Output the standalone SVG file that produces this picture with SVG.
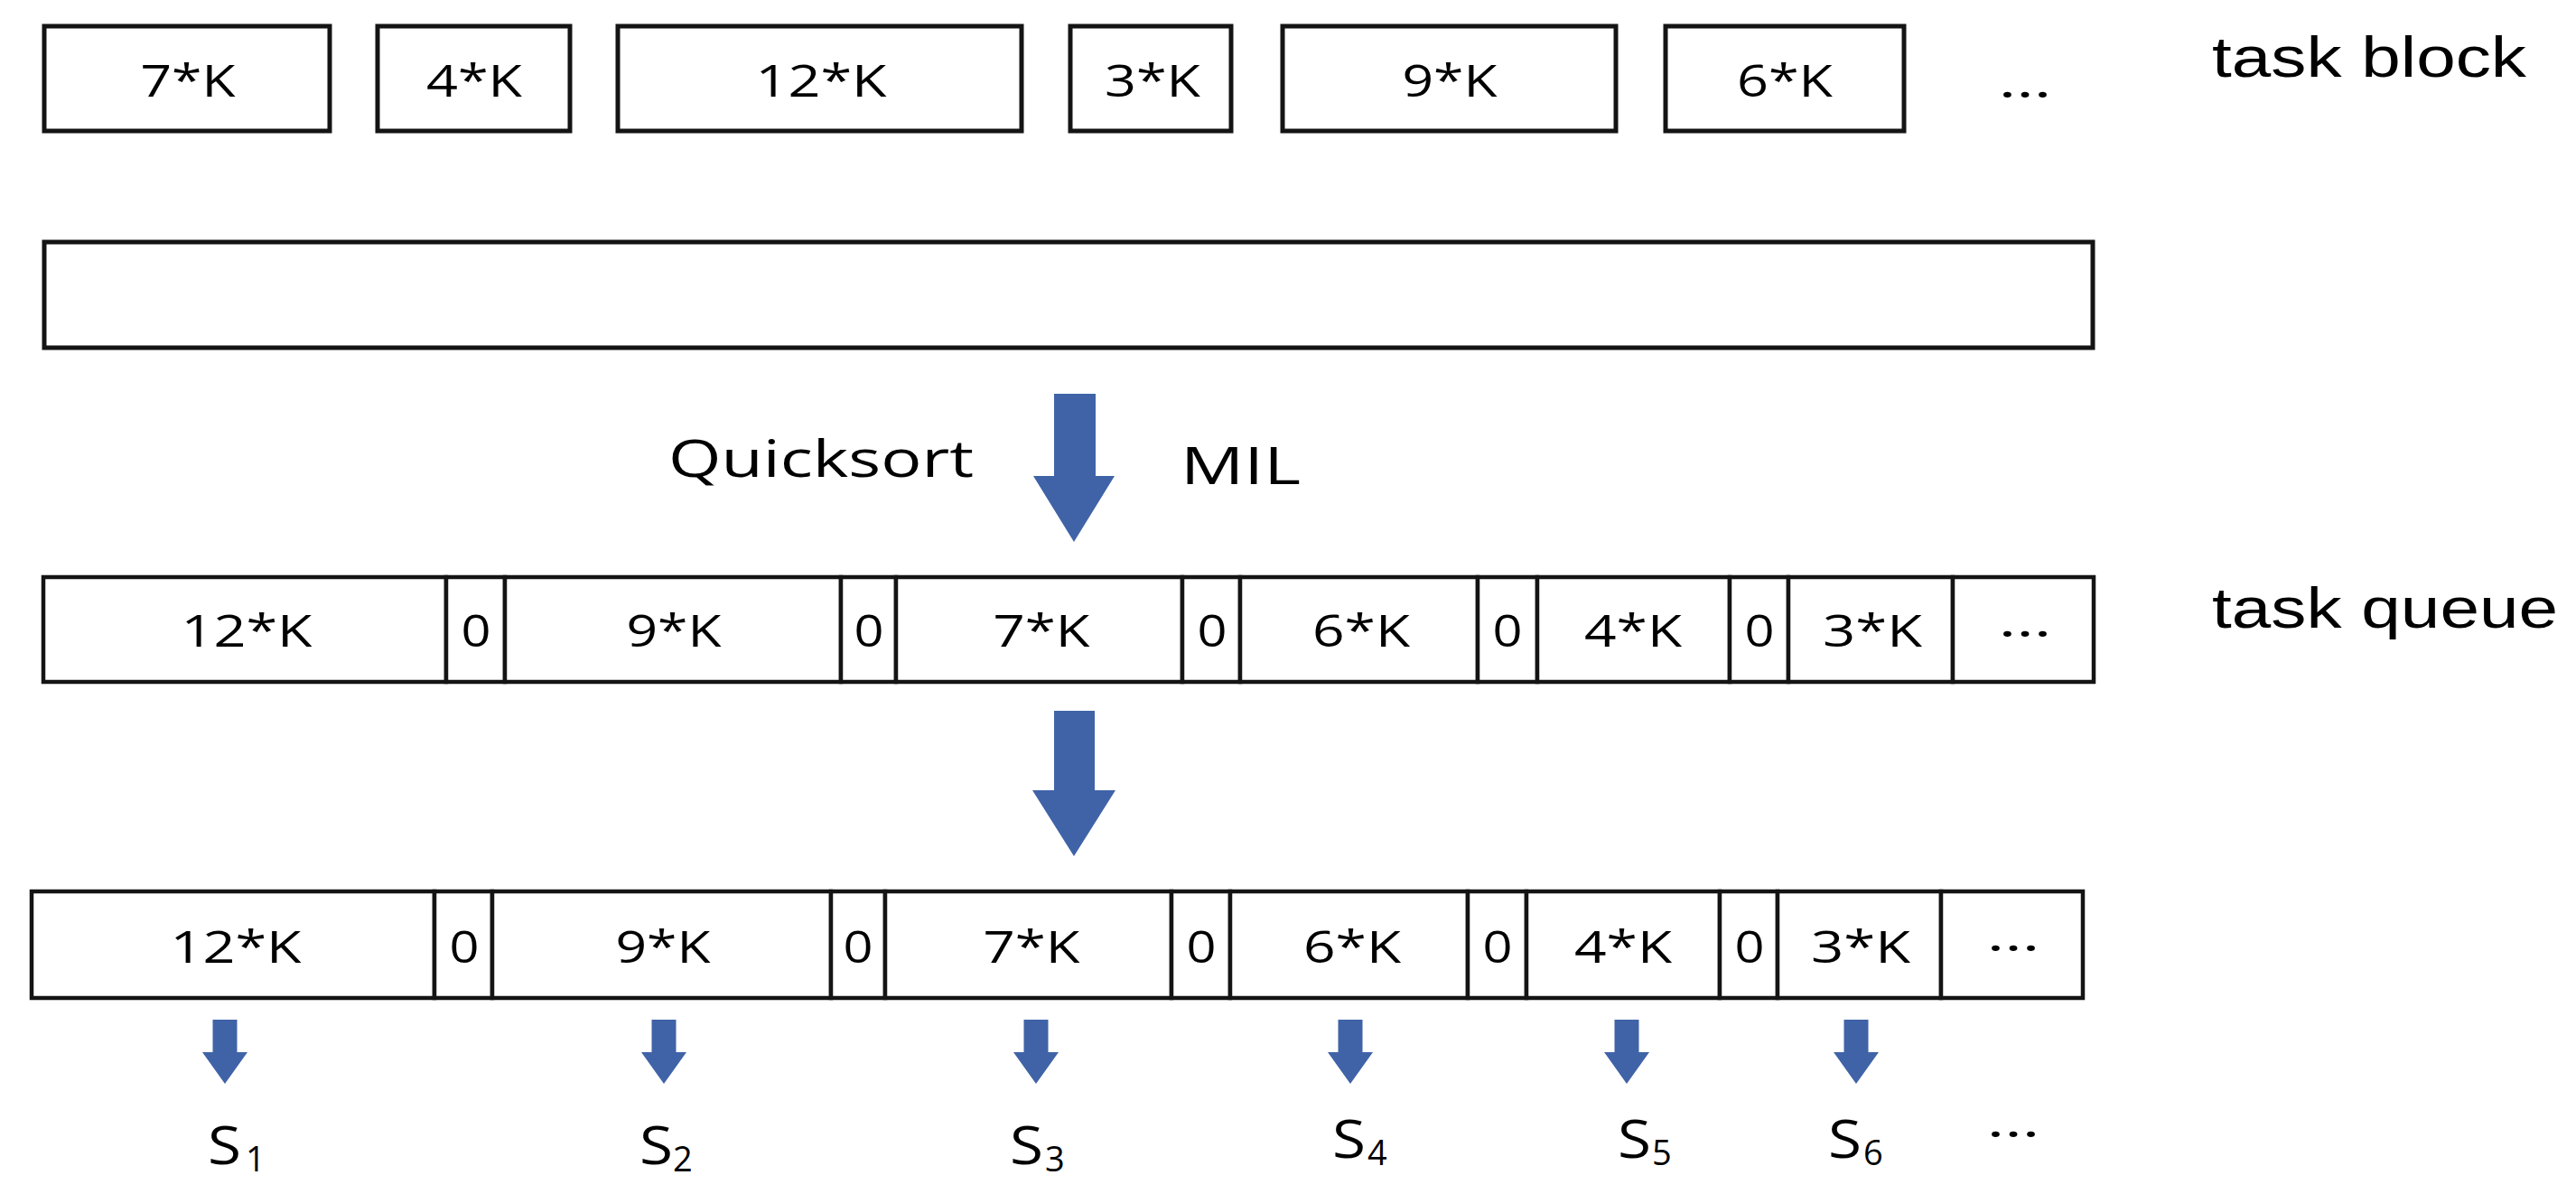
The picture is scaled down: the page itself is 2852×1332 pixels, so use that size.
<svg xmlns="http://www.w3.org/2000/svg" width="2852" height="1332" viewBox="0 0 2852 1332">
<style>
.box{fill:#fff;stroke:#141414;stroke-width:5}
.cell{fill:#fff;stroke:#141414;stroke-width:4.5}
.lbl{font-family:"Open Sans","Noto Sans",sans-serif;font-size:49px;fill:#000;text-anchor:middle}
.cap{font-family:"Open Sans","Noto Sans",sans-serif;font-size:57px;fill:#000}
.side{font-family:"Liberation Sans",Arial,sans-serif;font-size:63px;fill:#000}
.s{font-family:"Open Sans","Noto Sans",sans-serif;font-size:59px;fill:#000}
.sub{font-size:38px}
.arrow{fill:#4063A8}
</style>
<defs>
<path id="smallArrow" d="M-13.5,1129 H13.5 V1165 H25 L0,1200 L-25,1165 H-13.5 Z"/>
</defs>
<rect width="2852" height="1332" fill="#fff"/>

<g id="task-blocks">
<g id="tb1"><rect class="box" x="49" y="29" width="316" height="116"/><text class="lbl" x="208" y="107" textLength="105" lengthAdjust="spacingAndGlyphs">7*K</text></g>
<g id="tb2"><rect class="box" x="418" y="29" width="213" height="116"/><text class="lbl" x="525" y="107" textLength="106" lengthAdjust="spacingAndGlyphs">4*K</text></g>
<g id="tb3"><rect class="box" x="684" y="29" width="447" height="116"/><text class="lbl" x="909" y="107" textLength="145" lengthAdjust="spacingAndGlyphs">12*K</text></g>
<g id="tb4"><rect class="box" x="1185" y="29" width="178" height="116"/><text class="lbl" x="1276" y="107" textLength="106" lengthAdjust="spacingAndGlyphs">3*K</text></g>
<g id="tb5"><rect class="box" x="1420" y="29" width="369" height="116"/><text class="lbl" x="1605" y="107" textLength="105" lengthAdjust="spacingAndGlyphs">9*K</text></g>
<g id="tb6"><rect class="box" x="1844" y="29" width="264" height="116"/><text class="lbl" x="1976" y="107" textLength="106" lengthAdjust="spacingAndGlyphs">6*K</text></g>
<g id="tb-more"><text class="lbl" x="2242" y="108" textLength="59" lengthAdjust="spacingAndGlyphs">…</text></g>
<g id="tb-label"><text class="side" x="2449" y="85" textLength="348" lengthAdjust="spacingAndGlyphs">task block</text></g>
</g>

<g id="empty-box"><rect class="box" x="49" y="268" width="2268" height="117"/></g>

<g id="labels">
<text id="quicksort" class="cap" x="740" y="528" textLength="338" lengthAdjust="spacingAndGlyphs">Quicksort</text>
<text id="mil" class="cap" x="1307" y="536" textLength="133" lengthAdjust="spacingAndGlyphs">MIL</text>
</g>

<g id="task-queue">
<g id="q1"><rect class="cell" x="48" y="639" width="446" height="116"/><text class="lbl" x="273" y="716" textLength="145" lengthAdjust="spacingAndGlyphs">12*K</text></g>
<g id="q2"><rect class="cell" x="494" y="639" width="65" height="116"/><text class="lbl" x="527" y="716" textLength="33" lengthAdjust="spacingAndGlyphs">0</text></g>
<g id="q3"><rect class="cell" x="559" y="639" width="372" height="116"/><text class="lbl" x="746" y="716" textLength="105" lengthAdjust="spacingAndGlyphs">9*K</text></g>
<g id="q4"><rect class="cell" x="931" y="639" width="61" height="116"/><text class="lbl" x="962" y="716" textLength="33" lengthAdjust="spacingAndGlyphs">0</text></g>
<g id="q5"><rect class="cell" x="992" y="639" width="317" height="116"/><text class="lbl" x="1153" y="716" textLength="107" lengthAdjust="spacingAndGlyphs">7*K</text></g>
<g id="q6"><rect class="cell" x="1309" y="639" width="64" height="116"/><text class="lbl" x="1342" y="716" textLength="33" lengthAdjust="spacingAndGlyphs">0</text></g>
<g id="q7"><rect class="cell" x="1373" y="639" width="263" height="116"/><text class="lbl" x="1507" y="716" textLength="108" lengthAdjust="spacingAndGlyphs">6*K</text></g>
<g id="q8"><rect class="cell" x="1636" y="639" width="66" height="116"/><text class="lbl" x="1669" y="716" textLength="33" lengthAdjust="spacingAndGlyphs">0</text></g>
<g id="q9"><rect class="cell" x="1702" y="639" width="213" height="116"/><text class="lbl" x="1808" y="716" textLength="108" lengthAdjust="spacingAndGlyphs">4*K</text></g>
<g id="q10"><rect class="cell" x="1915" y="639" width="65" height="116"/><text class="lbl" x="1948" y="716" textLength="33" lengthAdjust="spacingAndGlyphs">0</text></g>
<g id="q11"><rect class="cell" x="1980" y="639" width="182" height="116"/><text class="lbl" x="2073" y="716" textLength="110" lengthAdjust="spacingAndGlyphs">3*K</text></g>
<g id="q12"><rect class="cell" x="2162" y="639" width="156" height="116"/><text class="lbl" x="2242" y="705" textLength="59" lengthAdjust="spacingAndGlyphs">…</text></g>
<g id="tq-label"><text class="side" x="2449" y="695" textLength="383" lengthAdjust="spacingAndGlyphs">task queue</text></g>
</g>

<g id="assigned-queue">
<g id="a1"><rect class="cell" x="35" y="987" width="446" height="118"/><text class="lbl" x="261" y="1066" textLength="145" lengthAdjust="spacingAndGlyphs">12*K</text></g>
<g id="a2"><rect class="cell" x="481" y="987" width="64" height="118"/><text class="lbl" x="514" y="1066" textLength="33" lengthAdjust="spacingAndGlyphs">0</text></g>
<g id="a3"><rect class="cell" x="545" y="987" width="375" height="118"/><text class="lbl" x="734" y="1066" textLength="105" lengthAdjust="spacingAndGlyphs">9*K</text></g>
<g id="a4"><rect class="cell" x="920" y="987" width="60" height="118"/><text class="lbl" x="950" y="1066" textLength="33" lengthAdjust="spacingAndGlyphs">0</text></g>
<g id="a5"><rect class="cell" x="980" y="987" width="317" height="118"/><text class="lbl" x="1142" y="1066" textLength="107" lengthAdjust="spacingAndGlyphs">7*K</text></g>
<g id="a6"><rect class="cell" x="1297" y="987" width="65" height="118"/><text class="lbl" x="1330" y="1066" textLength="33" lengthAdjust="spacingAndGlyphs">0</text></g>
<g id="a7"><rect class="cell" x="1362" y="987" width="263" height="118"/><text class="lbl" x="1497" y="1066" textLength="108" lengthAdjust="spacingAndGlyphs">6*K</text></g>
<g id="a8"><rect class="cell" x="1625" y="987" width="65" height="118"/><text class="lbl" x="1658" y="1066" textLength="33" lengthAdjust="spacingAndGlyphs">0</text></g>
<g id="a9"><rect class="cell" x="1690" y="987" width="214" height="118"/><text class="lbl" x="1797" y="1066" textLength="108" lengthAdjust="spacingAndGlyphs">4*K</text></g>
<g id="a10"><rect class="cell" x="1904" y="987" width="64" height="118"/><text class="lbl" x="1937" y="1066" textLength="33" lengthAdjust="spacingAndGlyphs">0</text></g>
<g id="a11"><rect class="cell" x="1968" y="987" width="181" height="118"/><text class="lbl" x="2060" y="1066" textLength="110" lengthAdjust="spacingAndGlyphs">3*K</text></g>
<g id="a12"><rect class="cell" x="2149" y="987" width="157" height="118"/><text class="lbl" x="2229" y="1053" textLength="59" lengthAdjust="spacingAndGlyphs">…</text></g>
</g>

<g id="servers">
<g id="s1"><text class="s"><tspan x="230" y="1289" textLength="37" lengthAdjust="spacingAndGlyphs">S</tspan><tspan class="sub" x="272" y="1297">1</tspan></text></g>
<g id="s2"><text class="s"><tspan x="708" y="1289" textLength="37" lengthAdjust="spacingAndGlyphs">S</tspan><tspan class="sub" x="745" y="1297">2</tspan></text></g>
<g id="s3"><text class="s"><tspan x="1118" y="1289" textLength="37" lengthAdjust="spacingAndGlyphs">S</tspan><tspan class="sub" x="1157" y="1297">3</tspan></text></g>
<g id="s4"><text class="s"><tspan x="1475" y="1282" textLength="37" lengthAdjust="spacingAndGlyphs">S</tspan><tspan class="sub" x="1514" y="1290">4</tspan></text></g>
<g id="s5"><text class="s"><tspan x="1791" y="1282" textLength="37" lengthAdjust="spacingAndGlyphs">S</tspan><tspan class="sub" x="1829" y="1290">5</tspan></text></g>
<g id="s6"><text class="s"><tspan x="2024" y="1282" textLength="37" lengthAdjust="spacingAndGlyphs">S</tspan><tspan class="sub" x="2063" y="1290">6</tspan></text></g>
<g id="s-more"><text class="lbl" x="2229" y="1259" textLength="59" lengthAdjust="spacingAndGlyphs">…</text></g>
</g>

<g id="connectors">
<path class="arrow" d="M1167,436 H1213 V527 H1234 L1189,600 L1144,527 H1167 Z"/>
<path class="arrow" d="M1167,787 H1212 V875 H1235 L1189,948 L1143,875 H1167 Z"/>
<use class="arrow" href="#smallArrow" x="249"/>
<use class="arrow" href="#smallArrow" x="735"/>
<use class="arrow" href="#smallArrow" x="1147"/>
<use class="arrow" href="#smallArrow" x="1495"/>
<use class="arrow" href="#smallArrow" x="1801"/>
<use class="arrow" href="#smallArrow" x="2055"/>
</g>
</svg>
